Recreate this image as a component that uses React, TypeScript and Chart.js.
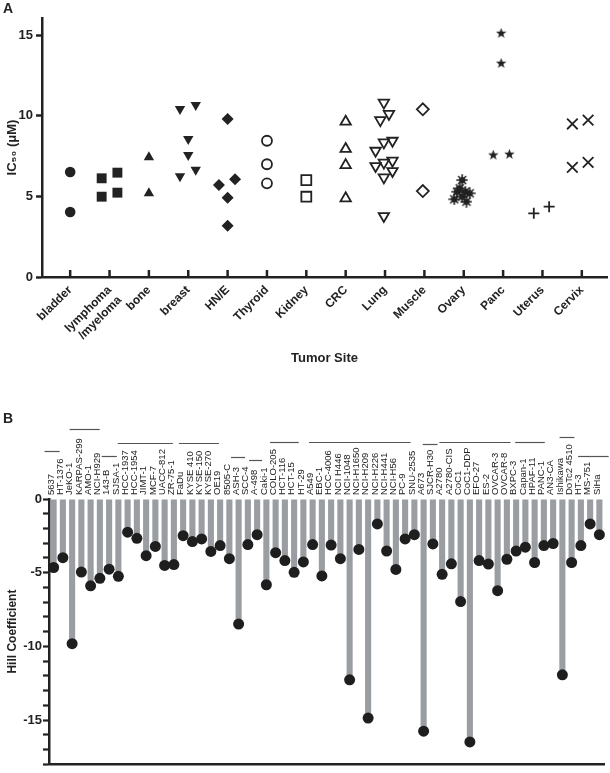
import React, { useEffect, useRef } from 'react';
import { Chart, registerables } from 'chart.js';

Chart.register(...registerables);

const FONT = '"Liberation Sans", Arial, Helvetica, sans-serif';
const INK = '#222222';

// ---------- Panel A data ----------
const tumorSites: (string | string[])[] = [
  'bladder', ['lymphoma', '/myeloma'], 'bone', 'breast', 'HN/E', 'Thyroid', 'Kidney',
  'CRC', 'Lung', 'Muscle', 'Ovary', 'Panc', 'Uterus', 'Cervix',
];

const bladderIC50 = [6.51, 4.03];
const lymphomaIC50 = [6.12, 4.98, 6.47, 5.23];
const boneIC50 = [7.42, 5.19];
const breastIC50 = [10.42, 10.66, 8.56, 7.56, 6.24, 6.65];
const hneIC50 = [9.8, 5.7, 6.06, 4.92, 3.18];
const thyroidIC50 = [8.45, 6.99, 5.81];
const kidneyIC50 = [6.01, 4.98];
const crcIC50 = [9.63, 7.94, 6.94, 4.88];
const lungIC50 = [10.81, 10.11, 9.73, 8.45, 8.35, 7.83, 7.21, 7.09, 6.88, 6.57, 6.18, 3.78];
const muscleIC50 = [10.4, 5.33];
const ovaryIC50 = [6.01, 5.5, 5.29, 5.29, 5.19, 4.82, 4.67, 4.98];
const pancIC50 = [15.11, 13.25, 7.56, 7.61];
const uterusIC50 = [3.95, 4.36];
const cervixIC50 = [9.49, 9.73, 6.8, 7.11];

// horizontal scatter offsets within each column (category units)
const bladderJitter = [0, 0];
const lymphomaJitter = [-0.2, -0.2, 0.2, 0.2];
const boneJitter = [0, 0];
const breastJitter = [-0.21, 0.19, 0, 0, -0.21, 0.19];
const hneJitter = [0, -0.22, 0.19, 0, 0];
const thyroidJitter = [0, 0, 0];
const kidneyJitter = [0, 0];
const crcJitter = [0, 0, 0, 0];
const lungJitter = [-0.03, 0.1, -0.12, 0.19, -0.03, -0.24, 0.19, -0.03, -0.24, 0.19, -0.03, -0.03];
const muscleJitter = [-0.04, -0.04];
const ovaryJitter = [-0.04, -0.1, -0.17, 0.04, 0.15, -0.24, 0.07, -0.04];
const pancJitter = [-0.05, -0.05, -0.25, 0.16];
const uterusJitter = [-0.22, 0.17];
const cervixJitter = [-0.24, 0.16, -0.24, 0.16];

// ---------- Panel B data ----------
const cellLines = [
  '5637', 'HT-1376', 'JeKO-1', 'KARPAS-299', 'AMO-1', 'NCI-H929', '143-B', 'SJSA-1',
  'HCC-1937', 'HCC-1954', 'JIMT-1', 'MCF-7', 'UACC-812', 'ZR-75-1', 'FaDu', 'KYSE 410',
  'KYSE-150', 'KYSE-270', 'OE19', '8505-C', 'ASH-3', 'SCC-4', 'A-498', 'Caki-1',
  'COLO-205', 'HCT-116', 'HCT-15', 'HT-29', 'A549', 'EBC-1', 'HCC-4006', 'NCI H446',
  'NCI-1048', 'NCI-H1650', 'NCI-H209', 'NCI-H226', 'NCI-H441', 'NCI-H56', 'PC-9', 'SNU-2535',
  'A673', 'SJCR-H30', 'A2780', 'A2780-CIS', 'CoC1', 'CoC1-DDP', 'EFO-27', 'ES-2',
  'OVCAR-3', 'OVCAR-8', 'BXPC-3', 'Capan-1', 'HPAF-11', 'PANC-1', 'AN3-CA', 'Ishikawa',
  'DoTc2 4510', 'HT-3', 'MS-751', 'SiHa',
];

const hillCoefficient = [
  -4.65, -3.98, -9.82, -4.96, -5.89, -5.38, -4.76, -5.25, -2.25, -2.67,
  -3.85, -3.22, -4.51, -4.45, -2.49, -2.89, -2.71, -3.56, -3.16, -4.05,
  -8.49, -3.09, -2.42, -5.82, -3.64, -4.18, -4.98, -4.27, -3.09, -5.22,
  -3.13, -4.05, -12.27, -3.42, -14.87, -1.69, -3.53, -4.78, -2.71, -2.42,
  -15.76, -3.05, -5.11, -4.4, -6.96, -16.49, -4.18, -4.42, -6.22, -4.09,
  -3.53, -3.27, -4.31, -3.16, -3.02, -11.93, -4.31, -3.16, -1.69, -2.42,
];

// group bracket spans over the cell-line labels (category index range)
const groupStart = [-0.98, 1.73, 5.2, 6.93, 13.54, 19.18, 21.13, 23.4, 27.6, 39.9, 41.7, 49.9, 54.7, 56.7];
const groupEnd = [0.65, 4.98, 6.83, 12.89, 17.88, 20.69, 22.54, 26.5, 38.6, 41.5, 49.4, 53.1, 56.3, 60.0];
// style: height of each bracket above the plot top, px
const groupLift = [48, 70, 43, 56, 56, 42, 39, 57, 57, 55, 57, 57, 62, 43];

function makeStar(size: number) {
  const c = document.createElement('canvas');
  c.width = size; c.height = size;
  const ctx = c.getContext('2d')!;
  const cx = size / 2, cy = size / 2, R = size / 2, r = R * 0.42;
  ctx.beginPath();
  for (let i = 0; i < 10; i++) {
    const a = -Math.PI / 2 + (i * Math.PI) / 5;
    const rad = i % 2 === 0 ? R : r;
    ctx.lineTo(cx + rad * Math.cos(a), cy + rad * Math.sin(a));
  }
  ctx.closePath();
  ctx.fillStyle = INK;
  ctx.fill();
  return c;
}

function makeAsterisk(size: number) {
  const c = document.createElement('canvas');
  c.width = size; c.height = size;
  const ctx = c.getContext('2d')!;
  const cx = size / 2, cy = size / 2;
  ctx.fillStyle = INK;
  ctx.strokeStyle = INK;
  ctx.lineWidth = 1.6;
  ctx.beginPath();
  ctx.arc(cx, cy, size * 0.26, 0, Math.PI * 2);
  ctx.fill();
  for (let i = 0; i < 8; i++) {
    const a = (i * Math.PI) / 4;
    ctx.beginPath();
    ctx.moveTo(cx, cy);
    ctx.lineTo(cx + Math.cos(a) * size * 0.47, cy + Math.sin(a) * size * 0.47);
    ctx.stroke();
  }
  return c;
}

const upTicks = {
  id: 'upTicks',
  afterDatasetsDraw(chart: any) {
    const { ctx, chartArea } = chart;
    const x = chart.scales.x;
    ctx.save();
    ctx.strokeStyle = INK;
    ctx.lineWidth = 2.5;
    x.ticks.forEach((t: any) => {
      const px = x.getPixelForValue(t.value);
      ctx.beginPath();
      ctx.moveTo(px, chartArea.bottom);
      ctx.lineTo(px, chartArea.bottom - 7);
      ctx.stroke();
    });
    ctx.restore();
  },
};

const groupBrackets = {
  id: 'groupBrackets',
  afterDraw(chart: any) {
    const { ctx, chartArea } = chart;
    const x = chart.scales.x;
    ctx.save();
    ctx.strokeStyle = '#555555';
    ctx.lineWidth = 1.2;
    groupStart.forEach((s, i) => {
      const y = chartArea.top - groupLift[i] + 0.5;
      ctx.beginPath();
      ctx.moveTo(x.getPixelForValue(s), y);
      ctx.lineTo(x.getPixelForValue(groupEnd[i]), y);
      ctx.stroke();
    });
    ctx.restore();
  },
};

export default function App() {
  const refA = useRef<HTMLCanvasElement>(null);
  const refB = useRef<HTMLCanvasElement>(null);

  useEffect(() => {
    const star = makeStar(11);
    const aster = makeAsterisk(12);

    const toPts = (vals: number[], jit: number[], idx: number) =>
      vals.map((v, i) => ({ x: idx + jit[i], y: v }));

    const filled = { backgroundColor: INK, borderColor: INK, borderWidth: 0 };
    const open = { backgroundColor: '#ffffff', borderColor: INK, borderWidth: 1.8 };

    const series = [
      { vals: bladderIC50, jit: bladderJitter, style: 'circle', r: 5.3, rot: 0, ...filled },
      { vals: lymphomaIC50, jit: lymphomaJitter, style: 'rect', r: 7, rot: 0, ...filled },
      { vals: boneIC50, jit: boneJitter, style: 'triangle', r: 6, rot: 0, ...filled },
      { vals: breastIC50, jit: breastJitter, style: 'triangle', r: 6, rot: 180, ...filled },
      { vals: hneIC50, jit: hneJitter, style: 'rectRot', r: 6, rot: 0, ...filled },
      { vals: thyroidIC50, jit: thyroidJitter, style: 'circle', r: 5, rot: 0, ...open },
      { vals: kidneyIC50, jit: kidneyJitter, style: 'rect', r: 7, rot: 0, ...open },
      { vals: crcIC50, jit: crcJitter, style: 'triangle', r: 6, rot: 0, ...open },
      { vals: lungIC50, jit: lungJitter, style: 'triangle', r: 6, rot: 180, ...open },
      { vals: muscleIC50, jit: muscleJitter, style: 'rectRot', r: 6, rot: 0, ...open },
      { vals: ovaryIC50, jit: ovaryJitter, style: aster, r: 6, rot: 0, ...filled },
      { vals: pancIC50, jit: pancJitter, style: star, r: 6, rot: 0, ...filled },
      { vals: uterusIC50, jit: uterusJitter, style: 'cross', r: 5.5, rot: 0, ...open },
      { vals: cervixIC50, jit: cervixJitter, style: 'crossRot', r: 7.5, rot: 0, ...open },
    ];

    const tickFont = { family: FONT, size: 13, weight: 'bold' as const };

    const chartA = new Chart(refA.current!, {
      type: 'scatter',
      data: {
        datasets: series.map((s, i) => ({
          data: toPts(s.vals, s.jit, i),
          pointStyle: s.style as any,
          pointRadius: s.r,
          pointRotation: s.rot,
          pointBackgroundColor: s.backgroundColor,
          pointBorderColor: s.borderColor,
          pointBorderWidth: s.borderWidth,
          showLine: false,
        })),
      },
      options: {
        animation: false,
        responsive: false,
        maintainAspectRatio: false,
        devicePixelRatio: 1,
        events: [],
        layout: { padding: { top: 18, right: 3, bottom: 15, left: 0 }, autoPadding: false },
        plugins: { legend: { display: false }, tooltip: { enabled: false } },
        scales: {
          x: {
            type: 'linear',
            min: -0.716,
            max: 13.64,
            afterBuildTicks: (s: any) => { s.ticks = tumorSites.map((_, i) => ({ value: i })); },
            afterFit: (s: any) => { s.height = 93; },
            grid: { display: false, drawTicks: false },
            border: { display: true, color: INK, width: 2.5 },
            ticks: {
              autoSkip: false,
              minRotation: 45,
              maxRotation: 45,
              padding: 6,
              color: INK,
              font: { family: FONT, size: 12, weight: 'bold' },
              callback: (v: any) => tumorSites[Math.round(Number(v))] ?? '',
            },
            title: {
              display: true,
              text: 'Tumor Site',
              color: INK,
              font: { family: FONT, size: 13, weight: 'bold' },
              padding: { top: 0, bottom: 4 },
            },
          },
          y: {
            min: 0,
            max: 16.06,
            afterFit: (s: any) => { s.width = 42; },
            grid: { drawOnChartArea: false, drawTicks: true, tickLength: 6, tickWidth: 2.5, tickColor: INK },
            border: { display: true, color: INK, width: 2.5 },
            ticks: { stepSize: 5, includeBounds: false, padding: 3, color: INK, font: tickFont },
            title: {
              display: true,
              text: 'IC₅₀ (μM)',
              color: INK,
              font: { family: FONT, size: 13, weight: 'bold' },
              padding: { top: 5, bottom: 0 },
            },
          },
        },
      },
      plugins: [upTicks],
    } as any);

    const chartB = new Chart(refB.current!, {
      type: 'bar',
      data: {
        labels: cellLines,
        datasets: [
          {
            type: 'line',
            data: hillCoefficient,
            showLine: false,
            pointRadius: 5.5,
            pointBackgroundColor: '#1e1e1e',
            pointBorderWidth: 0,
            order: 0,
          },
          {
            type: 'bar',
            data: hillCoefficient,
            backgroundColor: '#9a9ea2',
            barPercentage: 0.66,
            categoryPercentage: 1,
            order: 1,
          },
        ],
      },
      options: {
        animation: false,
        responsive: false,
        maintainAspectRatio: false,
        devicePixelRatio: 1,
        events: [],
        layout: { padding: { top: 9, right: 6, bottom: 2, left: 0 }, autoPadding: false },
        plugins: { legend: { display: false }, tooltip: { enabled: false } },
        scales: {
          x: {
            type: 'category',
            position: 'top',
            afterFit: (s: any) => { s.height = 100; },
            grid: { display: false, drawTicks: false },
            border: { display: false },
            ticks: {
              autoSkip: false,
              minRotation: 90,
              maxRotation: 90,
              padding: 4,
              labelOffset: 9,
              color: INK,
              font: { family: FONT, size: 9.5 },
            },
          },
          xb: {
            type: 'linear',
            position: 'bottom',
            min: 0,
            max: 1,
            afterFit: (s: any) => { s.height = 1; },
            grid: { display: false, drawTicks: false },
            border: { display: true, color: INK, width: 2.5 },
            ticks: { display: false },
          },
          y: {
            min: -18,
            max: 0,
            afterFit: (s: any) => { s.width = 49; },
            grid: { drawOnChartArea: false, drawTicks: true, tickLength: 6, tickWidth: 2.2, tickColor: INK },
            border: { display: true, color: INK, width: 2.5 },
            ticks: {
              stepSize: 1,
              autoSkip: false,
              includeBounds: false,
              padding: 1,
              color: INK,
              font: tickFont,
              callback: (v: any) => (Number(v) % 5 === 0 ? String(v) : ''),
            },
            title: {
              display: true,
              text: 'Hill Coefficient',
              color: INK,
              font: { family: FONT, size: 12, weight: 'bold' },
              padding: { top: 5, bottom: 0 },
            },
          },
        },
      },
      plugins: [groupBrackets],
    } as any);

    return () => {
      chartA.destroy();
      chartB.destroy();
    };
  }, []);

  const panelLabel: React.CSSProperties = {
    position: 'absolute',
    left: 3,
    fontFamily: FONT,
    fontWeight: 'bold',
    fontSize: 14,
    lineHeight: '16px',
    color: INK,
  };

  return (
    <div style={{ position: 'fixed', left: 0, top: 0, width: 610, height: 773, background: '#ffffff', overflow: 'hidden' }}>
      <canvas ref={refA} width={610} height={385} style={{ position: 'absolute', left: 0, top: 0, width: 610, height: 385 }} />
      <canvas ref={refB} width={610} height={383} style={{ position: 'absolute', left: 0, top: 390, width: 610, height: 383 }} />
      <div style={{ ...panelLabel, top: 0 }}>A</div>
      <div style={{ ...panelLabel, top: 410 }}>B</div>
    </div>
  );
}
